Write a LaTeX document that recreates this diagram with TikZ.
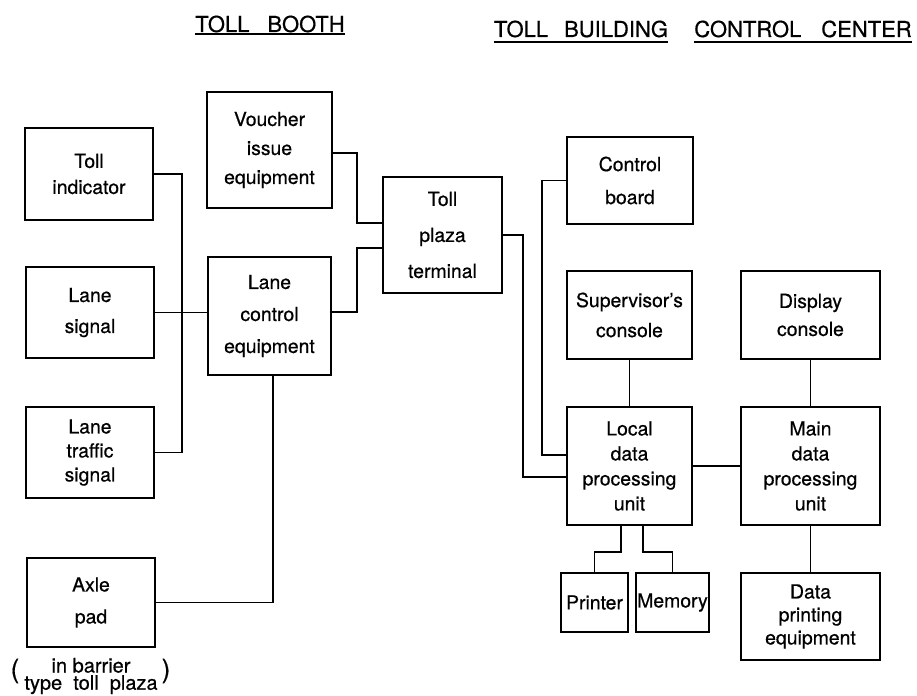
\documentclass[tikz,border=0pt]{standalone}
\usepackage{fontspec}
\setmainfont{TeX Gyre Heros}[FakeBold=0.6]

\tikzset{
  box/.style={draw, line width=1pt, align=center, inner sep=0pt,
    font=\fontsize{9.7}{#1}\selectfont},
  box/.default=12.5,
  wire/.style={line width=0.8pt},
  head/.style={inner sep=0pt, font=\fontsize{11}{13}\selectfont}
}

\begin{document}
\begin{tikzpicture}[x=0.5pt,y=-0.5pt]
\useasboundingbox (0,0) rectangle (917,696);

% headings
\node [head,anchor=base] (hbooth) at (270,32) {TOLL\hspace{9pt}BOOTH};
\node [head,anchor=base] (hbuild) at (581,37) {TOLL\hspace{8pt}BUILDING};
\node [head,anchor=base] (hcentre) at (803,37) {CONTROL\hspace{10pt}CENTER};
\draw[line width=1pt] ([yshift=-1pt]hbooth.base west) -- ([yshift=-1pt]hbooth.base east);
\draw[line width=1pt] ([yshift=-2.5pt]hbuild.base west) -- ([yshift=-2.5pt]hbuild.base east);
\draw[line width=1pt] ([yshift=-2.5pt]hcentre.base west) -- ([yshift=-2.5pt]hcentre.base east);

% toll booth
\node [box=13,minimum width=64pt,minimum height=46pt] (ind) at (89,174) {Toll\\indicator};
\node [box=15.5,minimum width=64pt,minimum height=45.5pt] (sig) at (90,312.5) {Lane\\signal};
\node [box=12,minimum width=64pt,minimum height=45.5pt] (traf) at (90,452.5) {Lane\\traffic\\signal};
\node [box=16,minimum width=64pt,minimum height=44.5pt] (axle) at (91,602.5) {Axle\\pad};
\node [box=14.5,minimum width=62.5pt,minimum height=58pt] (vouch) at (269.5,150) {Voucher\\issue\\equipment};
\node [box=16,minimum width=61.5pt,minimum height=59pt] (lcu) at (269.5,316) {Lane\\control\\equipment};
\node [box=18,minimum width=59.5pt,minimum height=58pt] (term) at (442.5,235) {Toll\\plaza\\terminal};
\node [inner sep=0pt,align=center,font=\fontsize{10}{8.6}\selectfont] (note) at (91,676) {in barrier\\type\ \ toll\ \ plaza};
\node [inner sep=0pt,font=\fontsize{13}{13}\selectfont] (lpar) at (15,671) {(};
\node [inner sep=0pt,font=\fontsize{13}{13}\selectfont] (rpar) at (166,671) {)};

% control center
\node [box=16.5,minimum width=63pt,minimum height=43.5pt] (board) at (630,180.5) {Control\\board};
\node [box=15,minimum width=62.5pt,minimum height=44pt] (sup) at (629.5,315) {Supervisor's\\console};
\node [box=14,minimum width=69.5pt,minimum height=44pt] (disp) at (810.5,315) {Display\\console};
\node [box=12.5,minimum width=62.5pt,minimum height=59pt] (local) at (629.5,466) {Local\\data\\processing\\unit};
\node [box=12.5,minimum width=69.5pt,minimum height=59pt] (main) at (810.5,466) {Main\\data\\processing\\unit};
\node [box,minimum width=33.5pt,minimum height=29.5pt] (prn) at (594.5,602.5) {Printer};
\node [box,minimum width=36.5pt,minimum height=29.5pt] (mem) at (672.5,602.5) {Memory};
\node [box=11.5,minimum width=69.5pt,minimum height=43.5pt] (dpe) at (810.5,616.5) {Data\\printing\\equipment};

\coordinate (busA) at (182,0);
\coordinate (busB) at (357,0);
\coordinate (busC) at (523,0);
\coordinate (busD) at (542,0);

\draw[wire] (ind.east) -- (ind.east -| busA) |- (traf.east);
\draw[wire] (sig.east) -- (sig.east -| lcu.west);
\draw[wire] ([yshift=-1.5pt]vouch.east) -- ([yshift=-1.5pt]vouch.east -| busB) |- ([yshift=6pt]term.west);
\draw[wire] ([yshift=2pt]lcu.east) -- ([yshift=2pt]lcu.east -| busB) |- ([yshift=-6.5pt]term.west);
\draw[wire] ([xshift=1.75pt]lcu.south) |- (axle.east);
\draw[wire] (term.east) -- (term.east -| busC) |- ([yshift=-5.5pt]local.west);
\draw[wire] (board.west) -- (board.west -| busD) |- ([yshift=5.5pt]local.west);
\draw[wire] (sup.south) -- (local.north);
\draw[wire] (disp.south) -- (main.north);
\draw[wire] (local.east) -- (main.west);
\draw[wire] ([xshift=-4.25pt]local.south) -- ++(0,26) -| (prn.north);
\draw[wire] ([xshift=6.75pt]local.south) -- ++(0,26) -| (mem.north);
\draw[wire] (main.south) -- (dpe.north);
\end{tikzpicture}
\end{document}
